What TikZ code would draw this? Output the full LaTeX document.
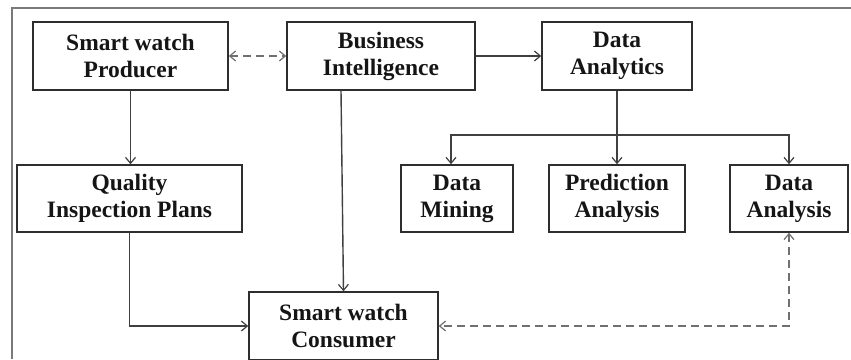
\documentclass[tikz,border=0pt]{standalone}
\usepackage{fontspec}
\setmainfont{Liberation Serif}
\usetikzlibrary{arrows.meta}
\definecolor{boxline}{HTML}{2E2E2E}
\definecolor{linkline}{HTML}{404040}
\definecolor{dashline}{HTML}{707070}
\definecolor{frameline}{HTML}{7A7A7A}
\definecolor{ink}{HTML}{151515}
\tikzset{
  tip/.tip={Straight Barb[length=6pt,width=10pt,line width=1.2pt]},
  block/.style={draw=boxline, line width=1.5pt, align=center, inner sep=0pt,
    text=ink, font=\fontsize{23.5}{27}\selectfont\bfseries},
  link/.style={draw=linkline, line width=1.4pt, -tip},
  duallink/.style={draw=linkline, line width=1.4pt, tip-tip},
  dlink/.style={draw=dashline, line width=1.6pt, dash pattern=on 8pt off 5pt, tip-tip},
}
\begin{document}
\begin{tikzpicture}[x=1pt,y=-1pt]
  \clip (0,0) rectangle (851,359);
  % outer frame (top and left edges)
  \draw[frameline, line width=1.5pt] (12,359) -- (12,8) -- (851,8);

  % top row
  \node[block, minimum width=195pt, minimum height=68pt] (prod) at (130.5,56) {Smart watch\\Producer};
  \node[block, minimum width=188pt, minimum height=68pt] (bi) at (381,56) {Business\\Intelligence};
  \node[block, minimum width=150pt, minimum height=68pt] (da) at (617,56) {Data\\Analytics};

  % middle row
  \node[block, minimum width=225pt, minimum height=67pt] (qip) at (129.5,198.5) {Quality\\Inspection Plans};
  \node[block, minimum width=112pt, minimum height=67pt] (dm) at (457,198.5) {Data\\Mining};
  \node[block, minimum width=136pt, minimum height=67pt] (pa) at (617,198.5) {Prediction\\Analysis};
  \node[block, minimum width=118pt, minimum height=67pt] (dan) at (789,198.5) {Data\\Analysis};

  % bottom
  \node[block, minimum width=189pt, minimum height=68pt] (cons) at (343.5,326) {Smart watch\\Consumer};

  % connectors
  \draw[dlink] (prod.east) -- (bi.west);
  \draw[link] (bi.east) -- (da.west);
  \draw[link] (prod.south) -- (prod.south |- qip.north);
  \draw[link] (da.south) -- (pa.north);
  \coordinate (fork) at (451,135);
  \draw[duallink] (fork |- dm.north) -- (fork) -- (fork -| dan.north) -- (dan.north);
  \draw[link] ([xshift=-2.5pt]cons.north |- bi.south) -- (cons.north);
  \draw[link] (qip.south) |- (cons.west);
  \draw[dlink] (dan.south) |- (cons.east);
\end{tikzpicture}
\end{document}
